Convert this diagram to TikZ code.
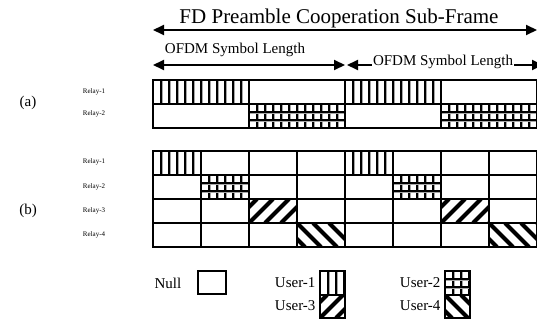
\documentclass[tikz,border=0pt]{standalone}
\usepackage{fontspec}
\setmainfont{Liberation Serif}
\usetikzlibrary{arrows.meta}

\tikzset{
  cell/.style={draw=black,line width=1.5pt},
  dimarrow/.style={line width=2pt,{Triangle[length=11pt,width=10pt]}-{Triangle[length=11pt,width=10pt]}},
  relay/.style={font=\fontsize{7}{8}\selectfont},
  legendtext/.style={font=\fontsize{15}{17}\selectfont},
  halo/.style={line width=3pt,black!35},
  stripe/.style={line width=1.1pt,black},
  band/.style={line width=4.2pt,black},
}

% patterns, box given by top-left (#1,#2) and bottom-right (#3,#4)
\newcommand{\userone}[4]{%
  \begin{scope}
    \clip (#1,#2) rectangle (#3,#4);
    \foreach \xx in {8,16,...,96} {
      \draw[halo] ({#1+\xx},#2) -- ({#1+\xx},#4);
      \draw[stripe] ({#1+\xx},#2) -- ({#1+\xx},#4);
    }
  \end{scope}}
\newcommand{\usertwo}[4]{%
  \begin{scope}
    \clip (#1,#2) rectangle (#3,#4);
    \foreach \xx in {8,16,...,96} {
      \draw[halo] ({#1+\xx},#2) -- ({#1+\xx},#4);
      \draw[stripe] ({#1+\xx},#2) -- ({#1+\xx},#4);
    }
    \foreach \yy in {8,16} {
      \draw[halo] (#1,{#2+\yy}) -- (#3,{#2+\yy});
      \draw[stripe] (#1,{#2+\yy}) -- (#3,{#2+\yy});
    }
  \end{scope}}
\newcommand{\userthree}[4]{%
  \begin{scope}
    \clip (#1,#2) rectangle (#3,#4);
    \foreach \cc in {-32,-16,...,48}
      \draw[band] ({#1+\cc},#4) -- ({#1+\cc+#4-#2},#2);
  \end{scope}}
\newcommand{\userfour}[4]{%
  \begin{scope}
    \clip (#1,#2) rectangle (#3,#4);
    \foreach \cc in {-32,-16,...,48}
      \draw[band] ({#1+\cc},#2) -- ({#1+\cc+#4-#2},#4);
  \end{scope}}

\begin{document}
\begin{tikzpicture}[x=1pt,y=-1pt]
  \useasboundingbox (0,0) rectangle (537,329);

  % top dimension arrows
  \node (title) [anchor=base,font=\fontsize{21}{24}\selectfont] at (339,24) {FD Preamble Cooperation Sub-Frame};
  \coordinate (sfL) at (153,30);
  \coordinate (sfR) at (537,30);
  \draw[dimarrow] (sfL) -- (sfR);

  \node (ofdmA) [anchor=base,font=\fontsize{15}{17}\selectfont] at (235,53) {OFDM Symbol Length};
  \coordinate (oaL) at (153,65);
  \coordinate (oaR) at (345,65);
  \draw[dimarrow] (oaL) -- (oaR);

  \coordinate (obL) at (347,65);
  \coordinate (obR) at (543,65);
  \draw[dimarrow] (obL) -- (obR);
  \node (ofdmB) [anchor=base,fill=white,inner sep=1pt,font=\fontsize{15}{17}\selectfont] at (443,65) {OFDM Symbol Length};

  % (a)
  \node (labA) [font=\fontsize{15}{17}\selectfont] at (28,103) {(a)};
  \node (a1) [relay] at (94,92) {Relay-1};
  \node (a2) [relay] at (94,114) {Relay-2};
  \userone{153}{80}{249}{104}
  \userone{345}{80}{441}{104}
  \usertwo{249}{104}{345}{128}
  \usertwo{441}{104}{537}{128}
  \foreach \xx in {153,249,345,441}
    \draw[cell] (\xx,80) rectangle ++(96,24) (\xx,104) rectangle ++(96,24);

  % (b)
  \node (labB) [font=\fontsize{15}{17}\selectfont] at (28,211) {(b)};
  \node (b1) [relay] at (94,162) {Relay-1};
  \node (b2) [relay] at (94,187) {Relay-2};
  \node (b3) [relay] at (94,211) {Relay-3};
  \node (b4) [relay] at (94,235) {Relay-4};
  \userone{153}{151}{201}{175}
  \userone{345}{151}{393}{175}
  \usertwo{201}{175}{249}{199}
  \usertwo{393}{175}{441}{199}
  \userthree{249}{199}{297}{223}
  \userthree{441}{199}{489}{223}
  \userfour{297}{223}{345}{247}
  \userfour{489}{223}{537}{247}
  \foreach \xx in {153,201,...,489}
    \foreach \yy in {151,175,199,223}
      \draw[cell] (\xx,\yy) rectangle ++(48,24);

  % legend
  \node (null) [legendtext] at (168,283) {Null};
  \draw[cell] (198,271) rectangle (226,294);
  \node (u1) [legendtext,anchor=east] at (319,283) {User-1};
  \userone{320}{271}{345}{295}
  \draw[cell] (320,271) rectangle (345,295);
  \node (u2) [legendtext,anchor=east] at (444,283) {User-2};
  \usertwo{445}{271}{470}{295}
  \draw[cell] (445,271) rectangle (470,295);
  \node (u3) [legendtext,anchor=east] at (319,306) {User-3};
  \userthree{320}{295}{345}{318}
  \draw[cell] (320,295) rectangle (345,318);
  \node (u4) [legendtext,anchor=east] at (444,306) {User-4};
  \userfour{445}{295}{470}{318}
  \draw[cell] (445,295) rectangle (470,318);
\end{tikzpicture}
\end{document}
